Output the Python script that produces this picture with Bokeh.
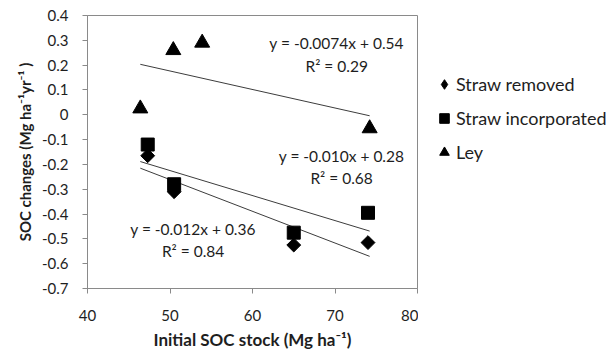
import numpy as np
from bokeh.plotting import figure
from bokeh.layouts import row
from bokeh.models import FixedTicker, Legend, LegendItem, Label
from bokeh.embed import file_html
from bokeh.resources import INLINE

# ---------------- data ----------------
removed_x = [47.3, 50.5, 65.0, 74.0]
removed_y = [-0.165, -0.31, -0.525, -0.515]
incorp_x = [47.3, 50.5, 65.0, 74.0]
incorp_y = [-0.12, -0.28, -0.475, -0.395]
ley_x = [46.4, 50.4, 53.9, 74.2]
ley_y = [0.025, 0.26, 0.29, -0.055]

series_names = ["Straw removed", "Straw incorporated", "Ley"]
eq_texts = ["y = -0.012x + 0.36", "y = -0.010x + 0.28", "y = -0.0074x + 0.54"]
r2_texts = ["R\u00b2 = 0.84", "R\u00b2 = 0.68", "R\u00b2 = 0.29"]

x_ticks = [40, 50, 60, 70, 80]
y_ticks = [-0.7, -0.6, -0.5, -0.4, -0.3, -0.2, -0.1, 0.0, 0.1, 0.2, 0.3, 0.4]
y_tick_labels = ["-0.7", "-0.6", "-0.5", "-0.4", "-0.3", "-0.2", "-0.1", "0",
                 "0.1", "0.2", "0.3", "0.4"]

x_title = "Initial SOC stock (Mg ha\u207b\u00b9)"
y_title = "SOC changes (Mg ha\u207b\u00b9yr\u207b\u00b9 )"

# ---------------- styles ----------------
FONT = "Lato"
TXT = "#1e1e1e"
AX = "#8a8a8a"
series = [(removed_x, removed_y), (incorp_x, incorp_y), (ley_x, ley_y)]
marker_styles = [dict(marker="square", angle=np.pi / 4, size=9.8),
                 dict(marker="square", angle=0.0, size=13),
                 dict(marker="triangle", angle=0.0, size=15)]
legend_markers = ["diamond", "square", "triangle"]

# ---------------- main figure ----------------
p = figure(width=418, height=353, output_backend="svg", toolbar_location=None,
           x_range=(x_ticks[0], x_ticks[-1]), y_range=(y_ticks[0], y_ticks[-1]),
           min_border_left=87, min_border_right=1, min_border_top=15,
           min_border_bottom=65)
p.background_fill_color = "white"
p.border_fill_color = "white"
p.outline_line_color = AX
p.outline_line_width = 1
p.xgrid.visible = False
p.ygrid.visible = False

for ax in (p.xaxis[0], p.yaxis[0]):
    ax.axis_line_color = AX
    ax.major_tick_line_color = AX
    ax.major_tick_out = 5
    ax.major_tick_in = 0
    ax.minor_tick_line_color = None
    ax.major_label_text_font = FONT
    ax.major_label_text_font_size = "15px"
    ax.major_label_text_color = TXT
    ax.axis_label_text_font = FONT
    ax.axis_label_text_font_style = "bold"
    ax.axis_label_text_color = TXT
p.xaxis.axis_label_text_font_size = "17px"
p.yaxis.axis_label_text_font_size = "15px"

p.xaxis.ticker = FixedTicker(ticks=x_ticks)
p.yaxis.ticker = FixedTicker(ticks=y_ticks)
p.yaxis.major_label_overrides = {t: l for t, l in zip(y_ticks, y_tick_labels)}
p.xaxis.axis_label = x_title
p.yaxis.axis_label = y_title
p.xaxis.major_label_standoff = 16
p.yaxis.major_label_standoff = 14
p.xaxis.axis_label_standoff = 5
p.yaxis.axis_label_standoff = 5

# trend lines: least squares fits of each series
all_x = removed_x + incorp_x + ley_x
fit_x = np.array([min(all_x), max(all_x)])
for xs, ys in series:
    k, b = np.polyfit(xs, ys, 1)
    p.line(fit_x, k * fit_x + b, line_color="#3c3c3c", line_width=1)

# markers
for (xs, ys), st in zip(series, marker_styles):
    p.scatter(xs, ys, fill_color="black", line_color="black", **st)

# equation labels
eq_pos = [(52.8, -0.459, -0.548), (70.8, -0.165, -0.255), (70.2, 0.291, 0.198)]
for (x, y1, y2), eq, r2 in zip(eq_pos, eq_texts, r2_texts):
    for yy, t in ((y1, eq), (y2, r2)):
        p.add_layout(Label(x=x, y=yy, text=t, text_align="center",
                           text_baseline="middle", text_font=FONT,
                           text_font_size="15.5px", text_color=TXT))

# ---------------- legend panel (right of the plot area) ----------------
# same series, in a panel whose ranges keep the points out of view: only the
# legend swatches are visible there
q = figure(width=190, height=353, output_backend="svg", toolbar_location=None,
           x_range=(0, 1), y_range=(0, 1), x_axis_type=None, y_axis_type=None,
           min_border=0)
q.outline_line_color = None
q.background_fill_color = "white"
q.border_fill_color = "white"
leg_renderers = [q.scatter(xs, ys, marker=m, size=10, fill_color="black",
                           line_color="black")
                 for (xs, ys), m in zip(series, legend_markers)]
legend = Legend(items=[LegendItem(label=n, renderers=[r])
                       for n, r in zip(series_names, leg_renderers)],
                location=(14, 124), orientation="vertical",
                glyph_width=24, glyph_height=24, label_height=24,
                label_standoff=0, spacing=10, padding=0, margin=0,
                border_line_color=None, background_fill_alpha=0,
                label_text_font=FONT, label_text_font_size="18px",
                label_text_color=TXT)
q.add_layout(legend)

layout = row(p, q, spacing=0)
open("out.html", "w").write(file_html(layout, INLINE))
